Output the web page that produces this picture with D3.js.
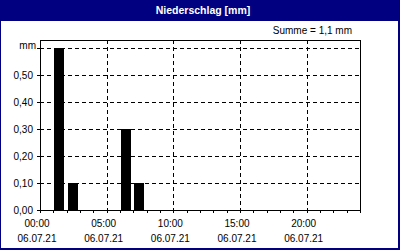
<!DOCTYPE html>
<html>
<head>
<meta charset="utf-8">
<script src="https://cdn.jsdelivr.net/npm/d3@7"></script>
<style>
  body { margin: 0; background: #fff; }
  svg { display: block; font-family: "Liberation Sans", Arial, sans-serif; }
</style>
</head>
<body>
<svg width="400" height="250"></svg>
<script>
// hourly precipitation, 06.07.21 (mm)
const hours = d3.range(24)
const values = [0, 0.6, 0.1, 0, 0, 0, 0.3, 0.1, 0, 0, 0, 0, 0, 0, 0, 0, 0, 0, 0, 0, 0, 0, 0, 0]
const yTicks = [0, 0.1, 0.2, 0.3, 0.4, 0.5]
const xTicks = [0, 5, 10, 15, 20]
const xLabels = ['00:00', '05:00', '10:00', '15:00', '20:00']
const dateLabel = '06.07.21'
const title = 'Niederschlag [mm]'
const sumLabel = 'Summe = 1,1 mm'

const navy = '#000080'
const svg = d3.select('svg')
const width = +svg.attr('width'),
  height = +svg.attr('height')

const plotLeft = 40, plotRight = 360, plotTop = 40, plotBottom = 210

const x = d3.scaleLinear().domain([0, 24]).range([plotLeft, plotRight])
const y = d3.scaleLinear().domain([0, 0.6]).range([plotBottom, 48])
const fmt = (v) => d3.format('.2f')(v).replace('.', ',')

// frame + title bar
svg.append('rect').attr('width', width).attr('height', height).attr('fill', '#fff')
svg.append('rect').attr('width', width).attr('height', 21).attr('fill', navy)
svg.append('rect').attr('x', 0).attr('y', 0).attr('width', 1).attr('height', height).attr('fill', navy)
svg.append('rect').attr('x', width - 2).attr('y', 0).attr('width', 2).attr('height', height).attr('fill', navy)
svg.append('rect').attr('x', 0).attr('y', height - 2).attr('width', width).attr('height', 2).attr('fill', navy)

svg.append('text')
  .attr('x', 203).attr('y', 14)
  .attr('text-anchor', 'middle')
  .attr('fill', '#fff')
  .style('font-weight', 'bold')
  .style('font-size', '10.5px')
  .text(title)

svg.append('text')
  .attr('x', 352).attr('y', 34)
  .attr('text-anchor', 'end')
  .style('font-size', '10px')
  .text(sumLabel)

const g = svg.append('g').attr('shape-rendering', 'crispEdges')

// dashed grid
g.selectAll('.hgrid')
  .data(yTicks.slice(1).concat([0.6]))
  .enter()
  .append('line')
  .attr('x1', plotLeft).attr('x2', plotRight)
  .attr('y1', (d) => Math.round(y(d)) + 0.5).attr('y2', (d) => Math.round(y(d)) + 0.5)
  .attr('stroke', '#000')
  .attr('stroke-dasharray', '4,3')

// y ticks left of the axis
g.selectAll('.ytick')
  .data(yTicks.concat([0.6]))
  .enter()
  .append('line')
  .attr('x1', plotLeft - 3).attr('x2', plotLeft)
  .attr('y1', (d) => Math.round(y(d)) + 0.5).attr('y2', (d) => Math.round(y(d)) + 0.5)
  .attr('stroke', '#000')

g.selectAll('.vgrid')
  .data(xTicks.slice(1))
  .enter()
  .append('line')
  .attr('x1', (d) => Math.round(x(d)) + 0.5).attr('x2', (d) => Math.round(x(d)) + 0.5)
  .attr('y1', plotTop).attr('y2', plotBottom + 3)
  .attr('stroke', '#000')
  .attr('stroke-dasharray', '4,3')

// bars
g.selectAll('.bar')
  .data(hours.filter((h) => values[h] > 0))
  .enter()
  .append('rect')
  .attr('x', (h) => Math.round(x(h)) + 1)
  .attr('width', (h) => Math.round(x(h + 0.75) - x(h)))
  .attr('y', (h) => Math.round(y(values[h])))
  .attr('height', (h) => plotBottom - Math.round(y(values[h])))
  .attr('fill', '#000')

// hourly ticks under the axis
g.selectAll('.tick')
  .data(d3.range(25))
  .enter()
  .append('line')
  .attr('x1', (d) => Math.round(x(d)) + 0.5).attr('x2', (d) => Math.round(x(d)) + 0.5)
  .attr('y1', plotBottom).attr('y2', plotBottom + 3)
  .attr('stroke', '#000')

// box
g.append('rect')
  .attr('x', plotLeft + 0.5).attr('y', plotTop + 0.5)
  .attr('width', plotRight - plotLeft).attr('height', plotBottom - plotTop)
  .attr('fill', 'none')
  .attr('stroke', '#000')

// y labels
svg.selectAll('.ylab')
  .data(yTicks)
  .enter()
  .append('text')
  .attr('x', 33)
  .attr('y', (d) => Math.round(y(d)) + 4)
  .attr('text-anchor', 'end')
  .style('font-size', '10px')
  .text((d) => fmt(d))

svg.append('text')
  .attr('x', 36).attr('y', 49)
  .attr('text-anchor', 'end')
  .style('font-size', '10px')
  .text('mm')

// x labels
const xl = svg.selectAll('.xlab')
  .data(xTicks)
  .enter()
  .append('g')
  .attr('transform', (d) => `translate(${x(d) - 3},0)`)

xl.append('text')
  .attr('y', 227)
  .attr('text-anchor', 'middle')
  .style('font-size', '10px')
  .text((d, i) => xLabels[i])

xl.append('text')
  .attr('y', 242)
  .attr('text-anchor', 'middle')
  .style('font-size', '10px')
  .text(dateLabel)
</script>
</body>
</html>
